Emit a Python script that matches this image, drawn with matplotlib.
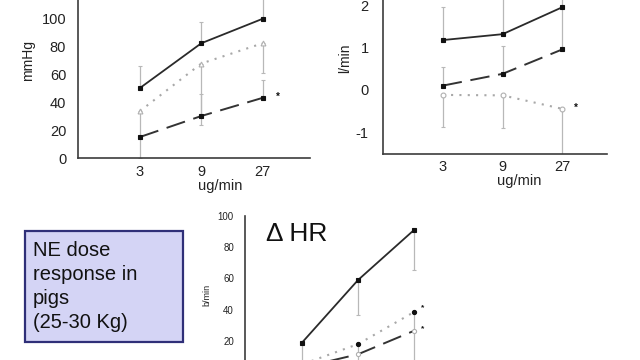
import matplotlib
matplotlib.use("Agg")
import matplotlib.pyplot as plt
from matplotlib.patches import Rectangle

plt.rcParams['font.family'] = ['Liberation Sans', 'DejaVu Sans']
plt.rcParams['axes.unicode_minus'] = False

doses = ['3', '9', '27']

# Top-left panel (mmHg)
tl_solid = [50, 82, 99.5]
tl_solid_lo = [0, 0, 0]
tl_solid_hi = [16, 15, 18]
tl_dotted = [33.5, 67.5, 82]
tl_dotted_lo = [33.5, 44, 21]
tl_dotted_hi = [0, 0, 0]
tl_dashed = [15, 30, 43]
tl_dashed_lo = [0, 0, 0]
tl_dashed_hi = [0, 16, 13]
tl_yticks = [0, 20, 40, 60, 80, 100]

# Top-right panel (l/min)
tr_solid = [1.18, 1.32, 1.96]
tr_solid_lo = [0, 0, 0]
tr_solid_hi = [0.78, 1.0, 0.6]
tr_dashed = [0.10, 0.38, 0.96]
tr_dashed_lo = [0, 0, 0]
tr_dashed_hi = [0.45, 0.67, 1.0]
tr_dotted = [-0.12, -0.13, -0.45]
tr_dotted_lo = [0.77, 0.77, 1.1]
tr_dotted_hi = [0, 0, 0]
tr_yticks = [-1, 0, 1, 2]

# Bottom panel (b/min)
hr_solid = [19, 59, 91]
hr_solid_lo = [25, 22.5, 25.5]
hr_solid_hi = [0, 0, 0]
hr_dotted = [5, 18, 38.5]
hr_dotted_lo = [5, 18, 38]
hr_dotted_hi = [0, 0, 0]
hr_dashed = [3, 11.5, 26.5]
hr_dashed_lo = [0, 0, 0]
hr_dashed_hi = [0, 0, 0]
hr_yticks = [20, 40, 60, 80, 100]

W, H = 640, 360
fig = plt.figure(figsize=(6.4, 3.6), dpi=100)
fig.patch.set_facecolor('white')

def px_axes(x0, y_top, x1, y_bot):
    return fig.add_axes([x0 / W, 1 - y_bot / H, (x1 - x0) / W, (y_bot - y_top) / H])

SPINE = '#3c3c3c'
ERR = '#b8b8b8'

def style(ax, yticks, fs, xpad, ypad):
    for s in ['top', 'right']:
        ax.spines[s].set_visible(False)
    for s in ['left', 'bottom']:
        ax.spines[s].set_color(SPINE)
        ax.spines[s].set_linewidth(1.2)
    ax.set_xticks(range(len(doses)))
    ax.set_xticklabels(doses)
    ax.set_yticks(yticks)
    ax.tick_params(axis='both', length=0, labelsize=fs, colors='#222222')
    ax.tick_params(axis='x', pad=xpad)
    ax.tick_params(axis='y', pad=ypad)
    ax.set_facecolor('none')

mk = {'solid': 's', 'dashed': 's', 'dotted': '^'}

def series(ax, y, lo, hi, kind, mfc, mec, ms=3.5):
    x = list(range(len(y)))
    ax.errorbar(x, y, yerr=[lo, hi], fmt='none', ecolor=ERR, elinewidth=0.9,
                capsize=1.5, capthick=0.8, zorder=1)
    if kind == 'solid':
        ax.plot(x, y, color='#2a2a2a', lw=1.3, zorder=3)
    elif kind == 'dashed':
        ax.plot(x, y, color='#333333', lw=1.4, dashes=(10, 4.5), zorder=3)
    else:
        ax.plot(x, y, color='#a8a8a8', lw=1.5, dashes=(1, 3), zorder=3)
    ax.plot(x, y, ls='none', marker=mk[kind], ms=ms, mfc=mfc, mec=mec, mew=0.8, zorder=4)

def star(ax, y, dx, dy, fs):
    ax.annotate('*', xy=(len(y) - 1, y[-1]), xytext=(dx, dy), textcoords='offset points',
                ha='center', va='center', fontsize=fs, color='#111111', fontweight='bold')

# ---------- Top-left ----------
ax1 = px_axes(78, 0, 310, 158)
ax1.set_xlim(-1.008, 2.77)
ax1.set_ylim(0, 112.9)
style(ax1, tl_yticks, 10.5, 5.0, 8.5)
mk['dotted'] = '^'
series(ax1, tl_solid, tl_solid_lo, tl_solid_hi, 'solid', '#111111', '#111111')
series(ax1, tl_dotted, tl_dotted_lo, tl_dotted_hi, 'dotted', 'white', '#b0b0b0')
series(ax1, tl_dashed, tl_dashed_lo, tl_dashed_hi, 'dashed', '#111111', '#111111')
star(ax1, tl_dashed, 11, 1, 7)
ax1.text(-0.2155, 0.62, 'mmHg', transform=ax1.transAxes, rotation=90,
         ha='center', va='center', fontsize=10, color='#222222')
ax1.text(0.612, -0.178, 'ug/min', transform=ax1.transAxes,
         ha='center', va='center', fontsize=10.5, color='#222222')

# ---------- Top-right ----------
ax2 = px_axes(382.7, 0, 606.7, 154)
ax2.set_xlim(-1.003, 2.74)
ax2.set_ylim(-1.52, 2.13)
style(ax2, tr_yticks, 10.5, 4.5, 10)
mk['dotted'] = 'o'
series(ax2, tr_solid, tr_solid_lo, tr_solid_hi, 'solid', '#111111', '#111111')
series(ax2, tr_dashed, tr_dashed_lo, tr_dashed_hi, 'dashed', '#111111', '#111111')
series(ax2, tr_dotted, tr_dotted_lo, tr_dotted_hi, 'dotted', 'white', '#b0b0b0')
star(ax2, tr_dotted, 10, 1, 7)
ax2.text(-0.168, 0.623, 'l/min', transform=ax2.transAxes, rotation=90,
         ha='center', va='center', fontsize=10, color='#222222')
ax2.text(0.61, -0.178, 'ug/min', transform=ax2.transAxes,
         ha='center', va='center', fontsize=10.5, color='#222222')

# ---------- Bottom (HR) ----------
ax3 = px_axes(245, 216, 457, 372.25)
ax3.set_xlim(-1.02, 2.77)
ax3.set_ylim(0, 100)
style(ax3, hr_yticks, 7, 4, 8)
ax3.tick_params(axis='x', labelbottom=False)
mk['dotted'] = 'o'
series(ax3, hr_solid, hr_solid_lo, hr_solid_hi, 'solid', '#111111', '#111111', ms=3)
series(ax3, hr_dotted, hr_dotted_lo, hr_dotted_hi, 'dotted', '#111111', '#111111', ms=3)
mk['dashed'] = 'o'
series(ax3, hr_dashed, hr_dashed_lo, hr_dashed_hi, 'dashed', 'white', '#b0b0b0', ms=3)
star(ax3, hr_dotted, 6, 3, 6)
star(ax3, hr_dashed, 6, 1.5, 6)
ax3.text(-0.18, 0.494, 'b/min', transform=ax3.transAxes, rotation=90,
         ha='center', va='center', fontsize=6.5, color='#222222')
fig.text(266 / W, 1 - 234 / H, '\u0394 HR', ha='left', va='center',
         fontsize=19, color='#111111')

# ---------- Text box ----------
fig.patches.append(Rectangle((25 / W, 1 - 341.7 / H), 158.3 / W, 111 / H,
                             transform=fig.transFigure, facecolor='#d4d4f5',
                             edgecolor='#2f2f78', linewidth=1.6, zorder=0))
fig.text(33 / W, 1 - 286.5 / H, 'NE dose\nresponse in\npigs\n(25-30 Kg)',
         ha='left', va='center', fontsize=14.5, color='#111111', linespacing=1.32)

fig.savefig('out.png', dpi=100)
